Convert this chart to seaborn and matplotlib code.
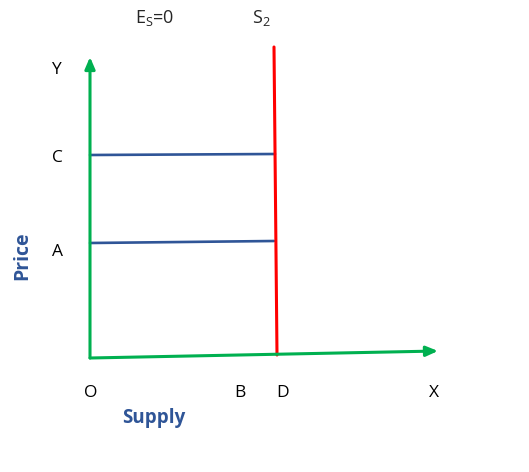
import numpy as np
import pandas as pd
import matplotlib
matplotlib.use("Agg")
import matplotlib.pyplot as plt
import seaborn as sns

# diagram in pixel-like coordinates (x right, y down)
seg_names = ["C", "A", "S2"]
seg_x0 = [90, 90, 274]
seg_y0 = [155, 243, 47]
seg_x1 = [275, 274, 277]
seg_y1 = [154, 241, 355]
seg_colors = ["#2F5597", "#2F5597", "#FF0000"]
seg_widths = [1.9, 1.9, 2.2]

# axes: origin, y-axis tip, x-axis tip
origin = (90, 358)
y_tip = (90, 57)
x_tip = (438, 351)

point_labels = ["Y", "C", "A", "O", "B", "D", "X"]
label_x = [56, 57, 57, 91, 240, 283, 434]
label_y = [70, 158, 252, 393, 393, 393, 393]

sns.set_style("white")
plt.rcParams['font.family'] = ['Open Sans', 'DejaVu Sans']

fig = plt.figure(figsize=(5.29, 4.72), dpi=100)
ax = fig.add_axes([0, 0, 1, 1])

rows = []
for n, xa, ya, xb, yb in zip(seg_names, seg_x0, seg_y0, seg_x1, seg_y1):
    rows.append({"seg": n, "x": xa, "y": ya, "o": 0})
    rows.append({"seg": n, "x": xb, "y": yb, "o": 1})
df = pd.DataFrame(rows)

for n, c, w in zip(seg_names, seg_colors, seg_widths):
    sub = df[df.seg == n]
    sns.lineplot(data=sub, x="x", y="y", sort=False, estimator=None,
                 color=c, linewidth=w, ax=ax)

green = "#00B050"
for tip in (y_tip, x_tip):
    ax.annotate("", xy=tip, xytext=origin,
                arrowprops=dict(arrowstyle="-|>,head_length=0.7,head_width=0.3",
                                color=green, lw=2.2, shrinkA=0, shrinkB=0))

for t, x, y in zip(point_labels, label_x, label_y):
    ax.text(x, y, t, fontsize=12.5, ha="center", va="center", color="black")

ax.text(155, 18, r"E$_\mathregular{S}$=0", fontsize=13, ha="center", va="center")
ax.text(261, 18, r"S$_\mathregular{2}$", fontsize=13, ha="center", va="center")
ax.text(154, 418, "Supply", fontsize=13.5, fontweight="bold", color="#2F5597",
        ha="center", va="center")
ax.text(22, 256, "Price", fontsize=14, fontweight="bold", color="#2F5597",
        ha="center", va="center", rotation=90)

ax.set_xlim(0, 529)
ax.set_ylim(472, 0)
ax.axis("off")
fig.savefig("out.png", dpi=100)
